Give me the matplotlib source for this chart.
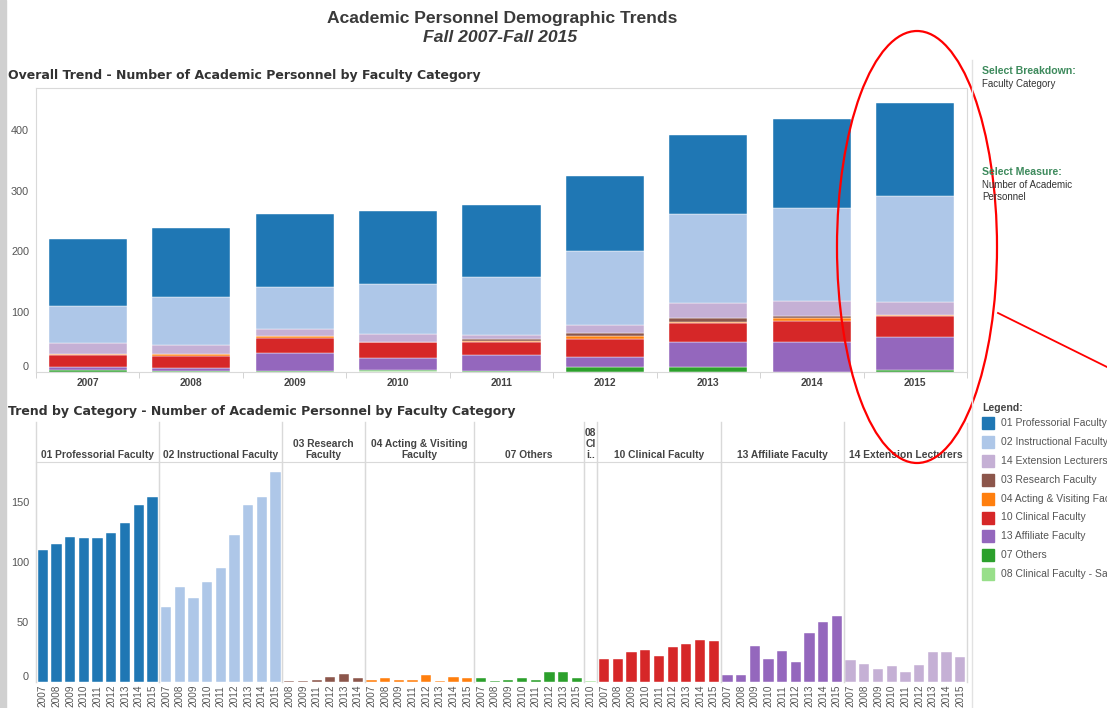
import matplotlib.pyplot as plt
import matplotlib.patches as patches
import numpy as np

years = [2007, 2008, 2009, 2010, 2011, 2012, 2013, 2014, 2015]

# head counts per faculty category, one value per year (0 = nobody that year)
professorial = [110, 115, 121, 120, 120, 124, 132, 147, 154]
instructional = [62, 79, 70, 83, 95, 122, 147, 154, 175]
research = [0, 1, 1, 0, 2, 4, 7, 3, 0]
acting_visiting = [2, 3, 2, 0, 2, 6, 1, 4, 3]
others = [3, 1, 2, 3, 2, 8, 8, 0, 3]
clinical_salaried = [0, 0, 0, 1, 0, 0, 0, 0, 0]
clinical = [19, 19, 25, 27, 22, 29, 32, 35, 34]
affiliate = [6, 6, 30, 19, 26, 17, 41, 50, 55]
extension = [18, 15, 11, 13, 8, 14, 25, 25, 21]

names = {
    '01': '01 Professorial Faculty', '02': '02 Instructional Faculty',
    '03': '03 Research Faculty', '04': '04 Acting & Visiting Faculty',
    '07': '07 Others', '08': '08 Clinical Faculty - Salaried',
    '10': '10 Clinical Faculty', '13': '13 Affiliate Faculty',
    '14': '14 Extension Lecturers',
}
values = {'01': professorial, '02': instructional, '03': research, '04': acting_visiting,
          '07': others, '08': clinical_salaried, '10': clinical, '13': affiliate, '14': extension}
colors = {'01': '#1f77b4', '02': '#aec7e8', '14': '#c5b0d5', '03': '#8c564b', '04': '#ff7f0e',
          '10': '#d62728', '13': '#9467bd', '07': '#2ca02c', '08': '#98df8a'}

legend_order = ['01', '02', '14', '03', '04', '10', '13', '07', '08']
stack_order = legend_order[::-1]  # bottom -> top
panel_order = ['01', '02', '03', '04', '07', '08', '10', '13', '14']
panel_headers = ['01 Professorial Faculty', '02 Instructional Faculty', '03 Research\nFaculty',
                 '04 Acting & Visiting\nFaculty', '07 Others', '08\nCl\ni..',
                 '10 Clinical Faculty', '13 Affiliate Faculty', '14 Extension Lecturers']

W, H = 1107, 708
def fx(px): return px / W
def fy(py): return 1 - py / H

plt.rcParams['font.family'] = ['Liberation Sans', 'DejaVu Sans']
GRID = '#d9d9d9'
TXT = '#555555'

fig = plt.figure(figsize=(W / 100, H / 100), dpi=100)
fig.patches.append(patches.Rectangle((0, 0), fx(6), 1, transform=fig.transFigure,
                                     color='#d0d0d0', zorder=0))
fig.add_artist(plt.Line2D([fx(972), fx(972)], [0, fy(60)], color='#e2e2e2', lw=1))

# titles
fig.text(fx(502), fy(18), 'Academic Personnel Demographic Trends', ha='center', va='center',
         fontsize=12.6, fontweight='bold', color='#3a3a3a')
fig.text(fx(500), fy(38), 'Fall 2007-Fall 2015', ha='center', va='center',
         fontsize=12.6, fontweight='bold', style='italic', color='#3a3a3a')
fig.text(fx(8), fy(75), 'Overall Trend - Number of Academic Personnel by Faculty Category',
         family='DejaVu Sans', fontweight='bold', fontsize=9, color='#333333', va='center')
fig.text(fx(8), fy(411), 'Trend by Category - Number of Academic Personnel by Faculty Category',
         family='DejaVu Sans', fontweight='bold', fontsize=9, color='#333333', va='center')

# ---- overall stacked bars
ax = fig.add_axes([fx(36), fy(372), fx(967) - fx(36), fy(88) - fy(372)])
x = np.arange(len(years))
bottom = np.zeros(len(years))
for k in stack_order:
    v = np.array(values[k], dtype=float)
    ax.bar(x, v, 0.755, bottom=bottom, color=colors[k], edgecolor='white', linewidth=0.3)
    bottom += v
ax.set_xlim(-0.5, len(years) - 0.5)
ax.set_ylim(0, 470)
ax.set_yticks([0, 100, 200, 300, 400])
ax.set_xticks(x)
ax.set_xticklabels([str(y) for y in years], fontweight='bold', fontsize=7.4, color='#444444')
ax.set_xticks(np.arange(-0.5, len(years)), minor=True)
ax.tick_params(axis='x', which='major', length=0, pad=4)
ax.tick_params(axis='x', which='minor', length=4, color='#cccccc')
ax.tick_params(axis='y', length=0, labelsize=7.8, labelcolor=TXT, pad=5)
ax.get_yticklabels()[0].set_va('bottom')
for s in ax.spines.values():
    s.set_color(GRID)

# ---- small multiples per category
total = sum(sum(1 for v in values[k] if v > 0) for k in panel_order)
left, right = 36, 967
step = (right - left) / total
pos = left
for i, (k, head) in enumerate(zip(panel_order, panel_headers)):
    idx = [j for j, v in enumerate(values[k]) if v > 0]
    n = len(idx)
    a = fig.add_axes([fx(pos), fy(682), n * step / W, fy(462) - fy(682)])
    a.bar(range(n), [values[k][j] for j in idx], 0.75, color=colors[k],
          edgecolor='white', linewidth=0.3)
    a.set_xlim(-0.5, n - 0.5)
    a.set_ylim(0, 183)
    a.set_xticks(range(n))
    a.set_xticklabels([str(years[j]) for j in idx], rotation=90, fontsize=7.2, color=TXT, va='top')
    a.tick_params(axis='x', length=0, pad=2)
    if i == 0:
        a.set_yticks([0, 50, 100, 150])
        a.tick_params(axis='y', length=0, labelsize=7.8, labelcolor=TXT, pad=5)
        a.get_yticklabels()[0].set_va('bottom')
    else:
        a.set_yticks([])
    for s in ['right', 'bottom']:
        a.spines[s].set_visible(False)
    a.spines['top'].set_color(GRID)
    a.spines['left'].set_color(GRID)
    a.plot([0, 0], [0, 1.18], transform=a.transAxes, color=GRID, lw=1, clip_on=False)
    a.text(0.5, 1.008, head, transform=a.transAxes, ha='center', va='bottom',
           fontsize=7.4, fontweight='bold', color='#444444', linespacing=1.15)
    pos += n * step
fig.add_artist(plt.Line2D([fx(right), fx(right)], [fy(682), fy(423)], color=GRID, lw=1))

# ---- right side controls and legend
GREEN = '#3d8a5c'
fig.text(fx(982), fy(71), 'Select Breakdown:', color=GREEN, fontweight='bold', fontsize=7.6, va='center')
fig.text(fx(982), fy(84), 'Faculty Category', color='#333333', fontsize=7, va='center')
fig.text(fx(982), fy(172), 'Select Measure:', color=GREEN, fontweight='bold', fontsize=7.6, va='center')
fig.text(fx(982), fy(185), 'Number of Academic', color='#333333', fontsize=7, va='center')
fig.text(fx(982), fy(197), 'Personnel', color='#333333', fontsize=7, va='center')
fig.text(fx(982), fy(408), 'Legend:', color='#444444', fontweight='bold', fontsize=7.6, va='center')
for i, k in enumerate(legend_order):
    yc = 423 + i * 18.9
    fig.patches.append(patches.Rectangle((fx(982), fy(yc + 6)), 12 / W, 12 / H,
                                         transform=fig.transFigure, color=colors[k]))
    fig.text(fx(1001), fy(yc), names[k], color=TXT, fontsize=7.5, va='center')

# ---- red annotation
fig.patches.append(patches.Ellipse((fx(917), fy(247)), 160 / W, 432 / H, transform=fig.transFigure,
                                   fill=False, edgecolor='red', linewidth=1.6))
fig.add_artist(plt.Line2D([fx(998), fx(1107)], [fy(313), fy(367)], color='red', lw=1.3))

fig.savefig('out.png', dpi=100)
